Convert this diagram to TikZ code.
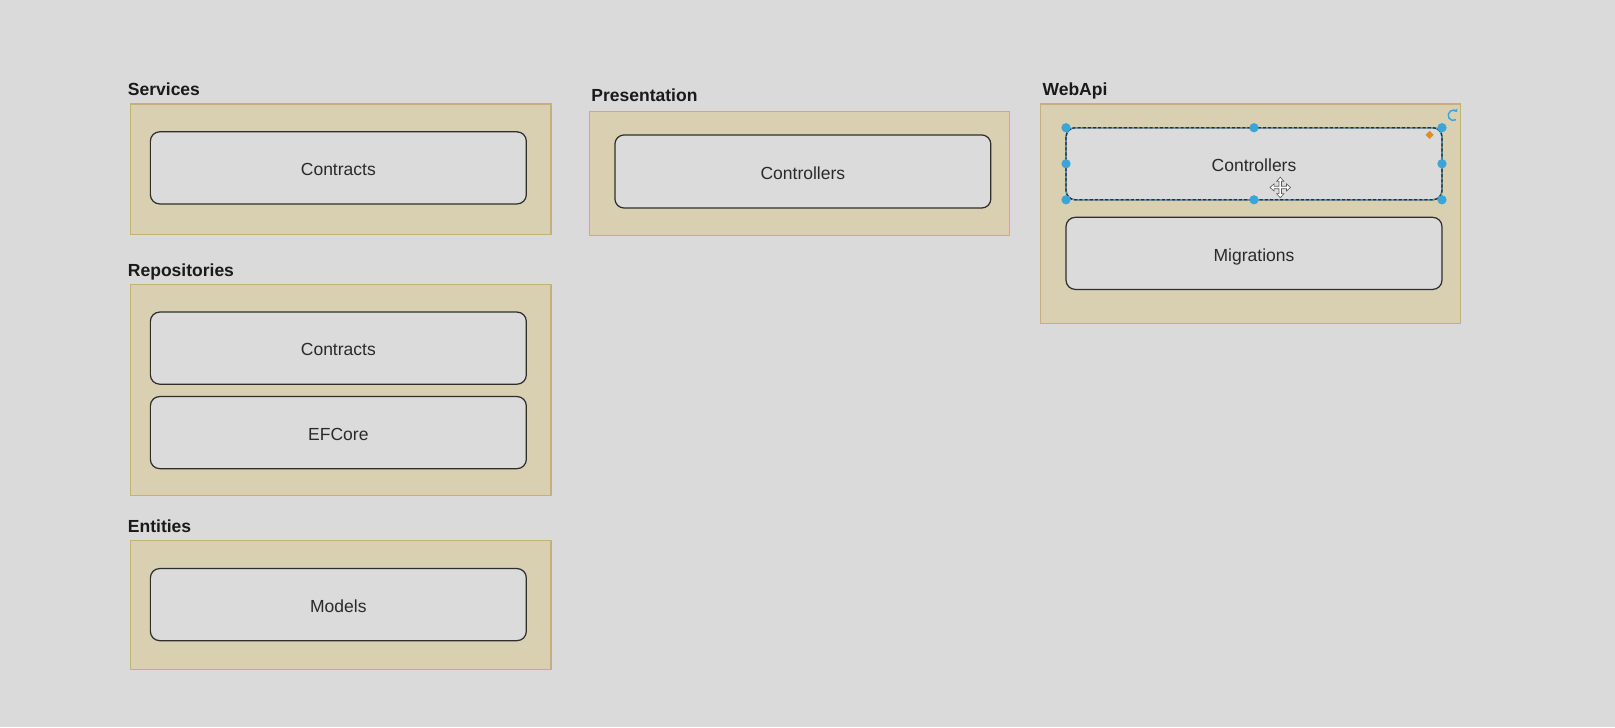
\documentclass[tikz,border=0pt]{standalone}
\usepackage{fontspec}
\setmainfont{Liberation Sans}
\usetikzlibrary{arrows.meta}
\definecolor{bgc}{HTML}{DADADA}
\definecolor{contfill}{HTML}{D9D0B2}
\definecolor{contdraw}{HTML}{C6B077}
\definecolor{boxfill}{HTML}{DBDBDB}
\definecolor{boxdraw}{HTML}{2E2E2E}
\definecolor{txt}{HTML}{2A2A2A}
\definecolor{ttl}{HTML}{1A1A1A}
\definecolor{selblue}{HTML}{3BA5D8}
\definecolor{selorange}{HTML}{E0901B}
\tikzset{
  container/.style={draw=contdraw, fill=contfill, line width=1.2pt, rectangle, anchor=north west, inner sep=0pt, outer sep=0pt},
  innerbox/.style={draw=boxdraw, fill=boxfill, line width=1.2pt, rounded corners=9pt, anchor=north west, inner sep=0pt, outer sep=0pt, minimum width=365pt, minimum height=70pt, text=txt, font=\fontsize{17pt}{20pt}\selectfont, text depth=0pt, text height=15pt},
  titletext/.style={anchor=base west, inner sep=0pt, text=ttl, font=\fontsize{17pt}{20pt}\selectfont\bfseries},
  handle/.style={circle, fill=selblue, inner sep=0pt, minimum size=9pt},
}
\begin{document}
\begin{tikzpicture}[x=1pt,y=-1pt]
\fill[bgc] (0,0) rectangle (1568,706);
\useasboundingbox (0,0) rectangle (1568,706);

% Services
\node[titletext] (tsvc) at (124,93) {Services};
\node[container, minimum width=408pt, minimum height=127pt] (svc) at (127,101) {};
\node[innerbox] (svcc) at (146,128) {Contracts};

% Presentation
\node[titletext] (tpres) at (574,99) {Presentation};
\node[container, minimum width=408pt, minimum height=121pt] (pres) at (572,108) {};
\node[innerbox, minimum height=71pt] (presc) at (597,131) {Controllers};

% WebApi
\node[titletext] (tweb) at (1012,93) {WebApi};
\node[container, minimum width=408pt, minimum height=213pt] (web) at (1010,101) {};
\node[innerbox] (webc) at (1035,124) {Controllers};
\node[innerbox] (webm) at (1035,211) {Migrations};

% Repositories
\node[titletext] (trep) at (124,268) {Repositories};
\node[container, minimum width=408pt, minimum height=205pt] (rep) at (127,276) {};
\node[innerbox] (repc) at (146,303) {Contracts};
\node[innerbox] (repe) at (146,385) {EFCore};

% Entities
\node[titletext] (tent) at (124,517) {Entities};
\node[container, minimum width=408pt, minimum height=125pt] (ent) at (127,525) {};
\node[innerbox] (entm) at (146,552) {Models};

% selection overlay on WebApi Controllers
\draw[selblue, line width=1.3pt, rounded corners=9pt] (webc.north west) rectangle (webc.south east);
\draw[boxdraw, line width=1.2pt, dash pattern=on 3pt off 2pt, rounded corners=9pt] (webc.north west) rectangle (webc.south east);
\foreach \a in {north west, north, north east, west, east, south west, south, south east}{
  \node[handle] at (webc.\a) {};
}
\fill[selorange] (1388,127) -- (1392,131) -- (1388,135) -- (1384,131) -- cycle;
\draw[selblue, line width=1.4pt, -{Stealth[length=3pt,width=4.5pt]}] (1411,112) ++(60:5) arc (60:320:5);

% move cursor
\begin{scope}[shift={(1243,182)}]
  \draw[gray!70!black, line width=0.6pt, fill=white]
    (0,-10) -- (3.5,-6) -- (1.2,-6) -- (1.2,-1.2) -- (6,-1.2) -- (6,-3.5) -- (10,0) -- (6,3.5) -- (6,1.2) -- (1.2,1.2) -- (1.2,6) -- (3.5,6) -- (0,10) -- (-3.5,6) -- (-1.2,6) -- (-1.2,1.2) -- (-6,1.2) -- (-6,3.5) -- (-10,0) -- (-6,-3.5) -- (-6,-1.2) -- (-1.2,-1.2) -- (-1.2,-6) -- (-3.5,-6) -- cycle;
\end{scope}
\end{tikzpicture}
\end{document}
